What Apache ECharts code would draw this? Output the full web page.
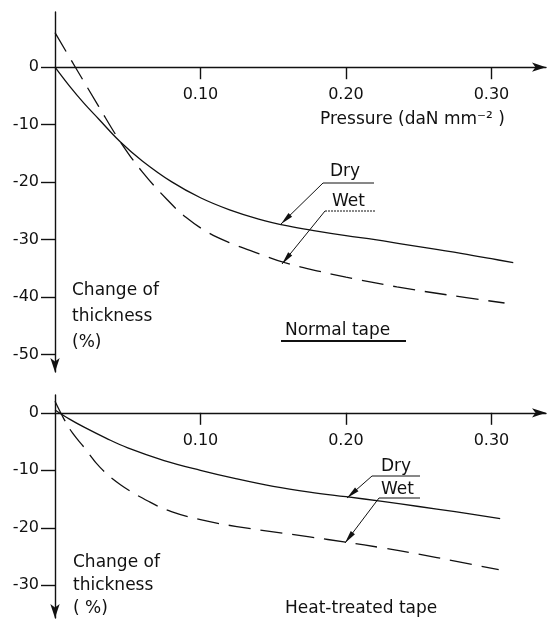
<!DOCTYPE html>
<html>
<head>
<meta charset="utf-8">
<script src="https://cdn.jsdelivr.net/npm/echarts@6/dist/echarts.min.js"></script>
<style>
  body { margin: 0; background: #fff; }
  #main { width: 549px; height: 620px; }
</style>
</head>
<body>
<div id="main"></div>
<script>
// Normal tape, pressure (daN mm-2) vs change of thickness (%)
const normalDryX = [0, 0.01, 0.02, 0.03, 0.045, 0.06, 0.08, 0.10, 0.12, 0.14, 0.16, 0.18, 0.20, 0.22, 0.24, 0.26, 0.28, 0.30, 0.315];
const normalDryY = [0, -3.3, -6.3, -9.0, -13.0, -16.3, -19.9, -22.7, -24.8, -26.4, -27.6, -28.5, -29.3, -30.0, -30.8, -31.6, -32.4, -33.3, -34.0];
const normalWetX = [0, 0.014, 0.03, 0.045, 0.06, 0.077, 0.09, 0.105, 0.12, 0.14, 0.158, 0.18, 0.20, 0.235, 0.27, 0.309];
const normalWetY = [6.0, 0, -6.8, -13.0, -18.2, -23.0, -26.1, -28.7, -30.5, -32.4, -34.0, -35.4, -36.5, -38.2, -39.6, -41.0];

// Heat-treated tape
const heatDryX = [0, 0.01, 0.02, 0.035, 0.05, 0.075, 0.10, 0.125, 0.15, 0.175, 0.20, 0.225, 0.25, 0.275, 0.306];
const heatDryY = [0.5, -1.1, -2.5, -4.4, -6.1, -8.3, -10.0, -11.5, -12.8, -13.8, -14.6, -15.4, -16.3, -17.2, -18.4];
const heatWetX = [0, 0.006, 0.012, 0.02, 0.031, 0.045, 0.065, 0.08, 0.10, 0.125, 0.15, 0.175, 0.20, 0.225, 0.25, 0.275, 0.305];
const heatWetY = [2.0, -1.0, -3.5, -6.0, -9.5, -12.5, -15.5, -17.2, -18.6, -19.8, -20.7, -21.6, -22.5, -23.5, -24.6, -25.8, -27.3];

const xTicks = [0.1, 0.2, 0.3];
const normalYTicks = [-50, -40, -30, -20, -10, 0];
const heatYTicks = [-30, -20, -10, 0];

const ink = "#111";
const font = "DejaVu Sans";

function pairs(xs, ys) {
  return xs.map((x, i) => [x, ys[i]]);
}

// x axis drawn through y = 0: shift the bottom axis up by the distance from grid bottom to zero
function xAxisFor(gridIndex, zeroOffset) {
  return {
    type: "value",
    gridIndex: gridIndex,
    position: "bottom",
    offset: -zeroOffset,
    min: 0,
    max: 0.3375,
    splitLine: { show: false },
    axisLine: {
      onZero: false,
      symbol: ["none", "arrow"],
      symbolSize: [7, 14],
      lineStyle: { color: ink, width: 1.4 },
    },
    axisTick: { customValues: xTicks, length: 12, lineStyle: { color: ink, width: 1.4 } },
    axisLabel: {
      customValues: xTicks,
      margin: 20,
      formatter: (v) => v.toFixed(2),
      color: ink,
      fontSize: 16,
      fontFamily: font,
    },
  };
}

function yAxisFor(gridIndex, min, max, ticks) {
  return {
    type: "value",
    gridIndex: gridIndex,
    min: min,
    max: max,
    splitLine: { show: false },
    axisLine: {
      onZero: false,
      symbol: ["arrow", "none"],
      symbolSize: [7, 14],
      lineStyle: { color: ink, width: 1.4 },
    },
    axisTick: { customValues: ticks, length: 14, lineStyle: { color: ink, width: 1.4 } },
    axisLabel: { customValues: ticks, margin: 16, color: ink, fontSize: 16, fontFamily: font },
  };
}

function curve(name, data, idx, dashed) {
  return {
    name: name,
    type: "line",
    xAxisIndex: idx,
    yAxisIndex: idx,
    data: data,
    smooth: 0.4,
    showSymbol: false,
    silent: true,
    lineStyle: { color: ink, width: 1.3, type: dashed ? [22, 10] : "solid" },
  };
}

// leader line with filled arrow head at (x2, y2)
function leader(x1, y1, x2, y2) {
  const dx = x2 - x1, dy = y2 - y1;
  const len = Math.sqrt(dx * dx + dy * dy);
  const ux = dx / len, uy = dy / len;
  const bx = x2 - ux * 13, by = y2 - uy * 13;
  const px = -uy * 2.6, py = ux * 2.6;
  return [
    { type: "line", shape: { x1: x1, y1: y1, x2: x2, y2: y2 }, style: { stroke: ink, lineWidth: 1 } },
    {
      type: "polygon",
      shape: { points: [[x2, y2], [bx + px, by + py], [bx - px, by - py]] },
      style: { fill: ink },
    },
  ];
}

function label(text, x, y) {
  return {
    type: "text",
    style: { text: text, x: x, y: y, fill: ink, font: "17px " + font, textVerticalAlign: "middle" },
  };
}

function rule(x1, x2, y, width, dash) {
  return {
    type: "line",
    shape: { x1: x1, y1: y, x2: x2, y2: y },
    style: { stroke: ink, lineWidth: width || 1, lineDash: dash || null },
  };
}

const chart = echarts.init(document.getElementById("main"));

const graphics = [
  label("Pressure (daN mm⁻² )", 320, 120),
  label("Dry", 330, 172),
  rule(323, 374, 183),
  label("Wet", 332, 202),
  rule(325, 375, 211, 1, [2, 1]),
  label("Normal tape", 285, 331),
  rule(281, 406, 341, 2),
  {
    type: "text",
    style: { text: "Change of\nthickness\n(%)", x: 72, y: 278, fill: ink, font: "17px " + font, lineHeight: 26 },
  },
  label("Dry", 381, 467),
  rule(372, 420, 476),
  label("Wet", 381, 490),
  rule(379, 420, 498),
  label("Heat-treated tape", 285, 609),
  {
    type: "text",
    style: { text: "Change of\nthickness\n( %)", x: 73, y: 551, fill: ink, font: "17px " + font, lineHeight: 23 },
  },
]
  .concat(leader(323, 183, 281, 224))
  .concat(leader(325, 211, 282, 264))
  .concat(leader(372, 476, 347, 498))
  .concat(leader(379, 498, 345, 543));

chart.setOption({
  animation: false,
  backgroundColor: "#fff",
  grid: [
    { left: 55, top: 12, width: 491, height: 360 },
    { left: 55, top: 395, width: 491, height: 223 },
  ],
  xAxis: [xAxisFor(0, (360 * 53) / 62.6), xAxisFor(1, (223 * 35.7) / 38.8)],
  yAxis: [yAxisFor(0, -53, 9.6, normalYTicks), yAxisFor(1, -35.7, 3.1, heatYTicks)],
  series: [
    curve("Dry", pairs(normalDryX, normalDryY), 0, false),
    curve("Wet", pairs(normalWetX, normalWetY), 0, true),
    curve("Dry", pairs(heatDryX, heatDryY), 1, false),
    curve("Wet", pairs(heatWetX, heatWetY), 1, true),
  ],
  graphic: graphics,
});
</script>
</body>
</html>
